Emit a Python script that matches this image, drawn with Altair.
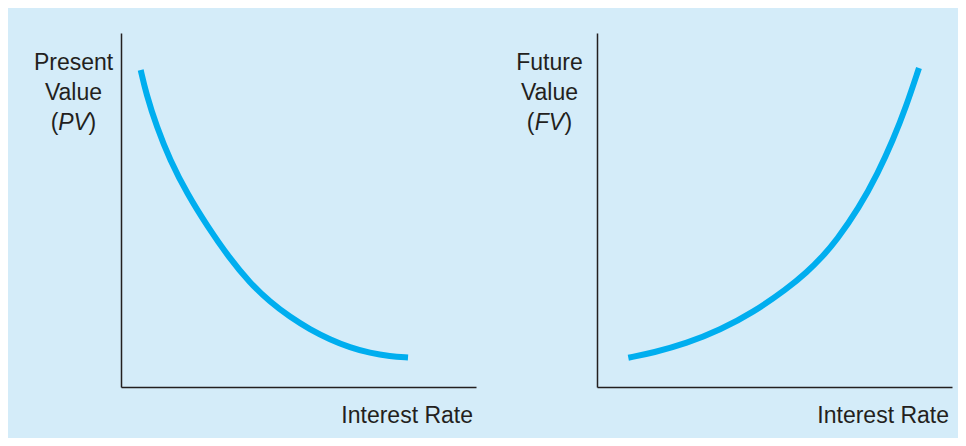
import altair as alt
import pandas as pd

# ---- data (0-100 arbitrary units) ----
pv_rate = [5.55, 7.04, 10.06, 13.80, 18.68, 24.42, 30.42, 36.34, 41.97, 47.61, 53.24, 58.87, 64.51, 70.14, 75.77, 80.85]
pv_value = [89.55, 83.05, 73.45, 64.12, 54.52, 45.28, 36.58, 29.38, 24.01, 19.77, 16.24, 13.42, 11.16, 9.60, 8.67, 8.33]

fv_rate = [8.82, 15.86, 25.27, 34.65, 44.03, 53.44, 59.07, 63.66, 67.32, 73.80, 79.15, 83.38, 87.04, 90.70]
fv_value = [8.28, 9.69, 12.34, 16.10, 21.10, 27.68, 32.34, 37.01, 41.24, 50.56, 60.45, 69.77, 79.10, 90.11]

pv_label_lines = ["Present", "Value"]
pv_abbr = "PV"
fv_label_lines = ["Future", "Value"]
fv_abbr = "FV"
x_title = "Interest Rate"

BG = "#d4ecf9"
CURVE = "#00aeef"
INK = "#231f20"
FONT = "Liberation Sans"
FS = 23
W, H = 355, 354


def txt(s, x, y, align, italic=False):
    return alt.Chart(pd.DataFrame({"t": [s]})).mark_text(
        font=FONT, fontSize=FS, color=INK, align=align, baseline="alphabetic",
        fontStyle="italic" if italic else "normal",
    ).encode(text="t:N", x=alt.value(x), y=alt.value(y))


def panel(rate, value, lines, abbr):
    df = pd.DataFrame({"rate": rate, "value": value})
    axis_common = dict(title=None, labels=False, ticks=False, grid=False,
                       domainColor=INK, domainWidth=1.5)
    curve = alt.Chart(df).mark_line(
        color=CURVE, strokeWidth=6, strokeCap="butt", interpolate="basis"
    ).encode(
        x=alt.X("rate:Q", scale=alt.Scale(domain=[0, 100], nice=False), axis=alt.Axis(**axis_common)),
        y=alt.Y("value:Q", scale=alt.Scale(domain=[0, 100], nice=False), axis=alt.Axis(**axis_common)),
    )
    cx = -47.5
    aw = 30
    layers = [curve,
              txt(lines[0], cx, 37, "center"),
              txt(lines[1], cx, 66.5, "center"),
              txt("(", cx - aw / 2, 96.5, "right"),
              txt(abbr, cx, 96.5, "center", italic=True),
              txt(")", cx + aw / 2, 96.5, "left"),
              txt(x_title, W - 3, 390, "right")]
    return alt.layer(*layers).properties(width=W, height=H)


left = panel(pv_rate, pv_value, pv_label_lines, pv_abbr)
right = panel(fv_rate, fv_value, fv_label_lines, fv_abbr)

chart = alt.hconcat(
    left, right, spacing=40,
    padding={"left": 25, "top": 25, "right": 6, "bottom": 10},
).configure(background=BG).configure_view(stroke=None)

chart.save("out.html", embed_options={"renderer": "svg", "actions": False})
